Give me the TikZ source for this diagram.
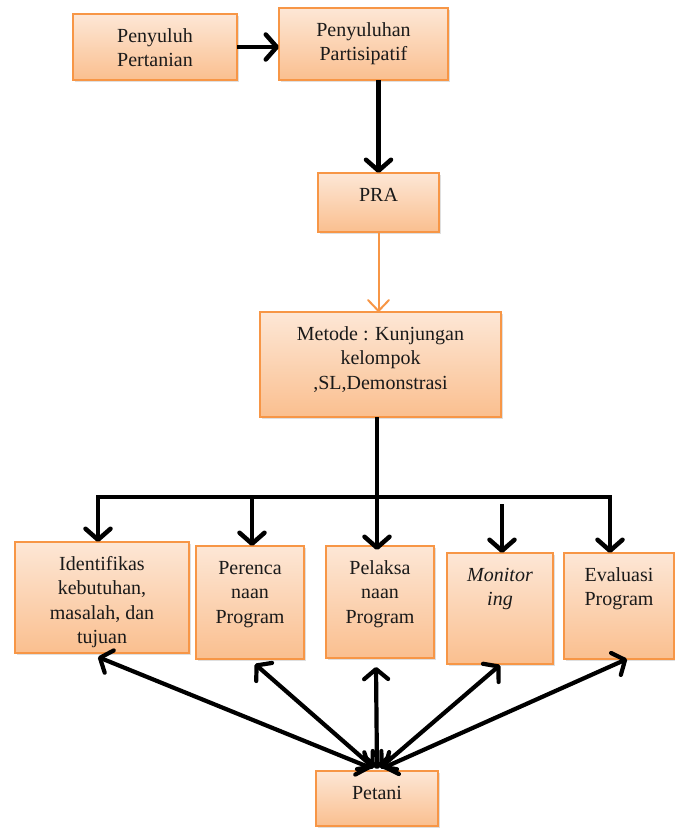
\documentclass[tikz,border=0pt]{standalone}
\usepackage{fontspec}
\setmainfont{Liberation Serif}
\usetikzlibrary{arrows.meta,shadows,calc}
\definecolor{orline}{HTML}{F79646}
\definecolor{ortop}{HTML}{FDE7D6}
\definecolor{orbot}{HTML}{FABF8F}
\definecolor{txt}{HTML}{1A1A1A}
\newcommand\bxt[3]{\parbox[c][#2pt][t]{#1pt}{\centering\rule{0pt}{28pt}#3\par}}
\begin{document}
\begin{tikzpicture}[x=1pt,y=-1pt,
  box/.style={draw=orline, line width=1.4pt, top color=ortop, bottom color=orbot,
    inner sep=0pt, outer sep=0pt, anchor=north west, text=txt,
    drop shadow={shadow xshift=1.5pt, shadow yshift=-2pt, opacity=0.25},
    font=\fontsize{20}{24.5}\selectfont},
  arr/.style={line width=4.5pt, -{Straight Barb[length=11pt,width=25pt,round]}},
  darr/.style={line width=4.2pt, {Straight Barb[length=10pt,width=24pt,round]}-{Straight Barb[length=10pt,width=24pt,round]}},
  oarr/.style={draw=orline, line width=2pt, -{Straight Barb[length=11pt,width=21pt,round]}},
  busline/.style={line width=4.5pt, line cap=rect}]
\useasboundingbox (0,0) rectangle (675,828);

\node[box] (p1) at (73,14) {\bxt{164}{66}{Penyuluh\\Pertanian}};
\node[box] (p2) at (279,8) {\bxt{169}{72}{Penyuluhan\\Partisipatif}};
\node[box] (pra) at (318,173) {\bxt{121}{59}{PRA}};
\node[box] (m) at (260,312) {\bxt{241}{105}{Metode : Kunjungan\\kelompok\\,SL,Demonstrasi}};
\node[box] (b1) at (15,542) {\bxt{174}{111}{Identifikas\\kebutuhan,\\masalah, dan\\tujuan}};
\node[box] (b2) at (196,546) {\bxt{108}{113}{Perenca\\naan\\Program}};
\node[box] (b3) at (326,546) {\bxt{108}{112}{Pelaksa\\naan\\Program}};
\node[box] (b4) at (447,553) {\bxt{106}{111}{\itshape Monitor\\ing}};
\node[box] (b5) at (564,553) {\bxt{110}{106}{Evaluasi\\Program}};
\node[box] (pet) at (316,771) {\bxt{122}{55}{Petani}};

% top flow
\draw[arr] (p1.east) -- (p1.east -| p2.west);
\draw[arr] (p2.south -| pra.north) -- (pra.north);
\draw[oarr] (pra.south) -- (pra.south |- m.north);

% bus
\coordinate (d1) at (98,497);
\coordinate (d2) at (252,497);
\coordinate (d3) at (377,497);
\coordinate (d4) at (502,504);
\coordinate (d5) at (610,497);
\draw[line width=4.5pt] (m.south -| d3) -- (d3);
\draw[busline] (d1) -- (d5);
\draw[arr] (d1) -- (d1 |- b1.north);
\draw[arr] (d2) -- (d2 |- b2.north);
\draw[arr] (d3) -- ([yshift=-4pt]d3 |- b3.north);
\draw[arr] (d4) -- (d4 |- b4.north);
\draw[arr] (d5) -- (d5 |- b5.north);

% petani links
\draw[darr] ([shift={(-6,-3)}]pet.north) -- ([shift={(-4,4)}]b1.south);
\draw[darr] ([shift={(-3,-3)}]pet.north) -- ([shift={(5,5)}]b2.south);
\draw[darr] ([shift={(0,-2)}]pet.north) -- ([shift={(-4,9)}]b3.south);
\draw[darr] ([shift={(3,-3)}]pet.north) -- ([shift={(0,1)}]b4.south);
\draw[darr] ([shift={(6,-3)}]pet.north) -- ([shift={(8,0)}]b5.south);
\end{tikzpicture}
\end{document}
